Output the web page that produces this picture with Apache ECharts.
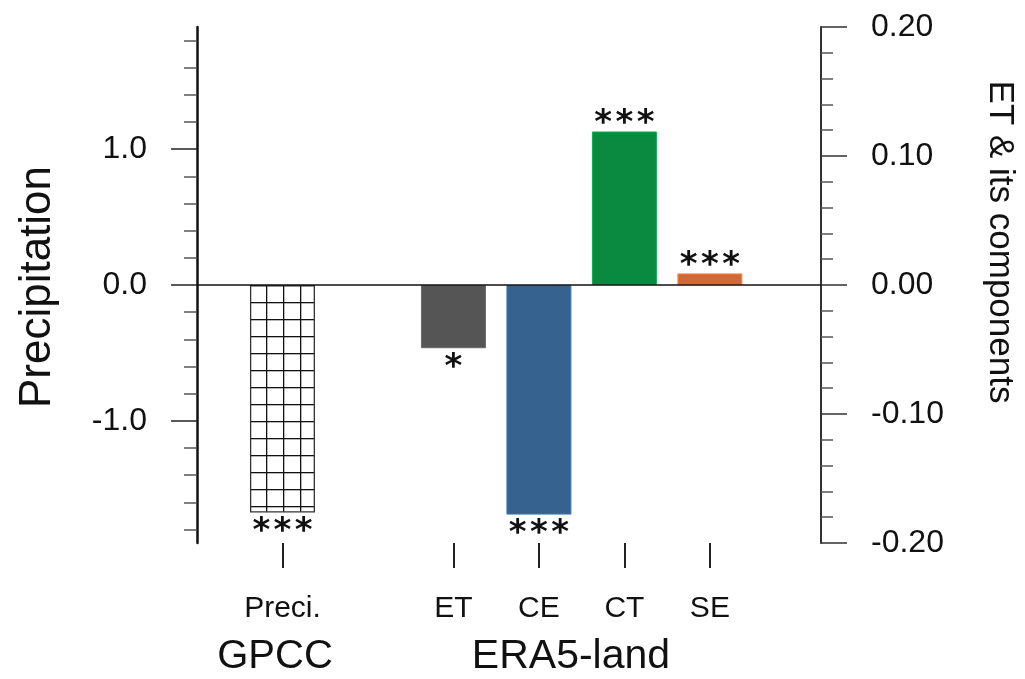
<!DOCTYPE html>
<html>
<head>
<meta charset="utf-8">
<script src="https://cdn.jsdelivr.net/npm/echarts@6/dist/echarts.min.js"></script>
<style>
html,body{margin:0;padding:0;background:#fff;}
#chart{width:1025px;height:679px;}
</style>
</head>
<body>
<div id="chart"></div>
<script>
// ---- data ----
const categories = ['', 'Preci.', '', 'ET', 'CE', 'CT', 'SE'];
const preciNames = ['Preci.'];
const preciValues = [-1.675];          // GPCC, left axis
const preciSignif = ['***'];
const era5Names = ['ET', 'CE', 'CT', 'SE'];
const era5Values = [-0.049, -0.178, 0.119, 0.009];   // ERA5-land, right axis
const era5Signif = ['*', '***', '***', '***'];
const era5Colors = ['#555555', '#35628f', '#0a8a40', '#cf6a37'];
const leftMajorTicks = [-1, 0, 1];
const leftMinorTicks = [-1.8, -1.6, -1.4, -1.2, -0.8, -0.6, -0.4, -0.2, 0.2, 0.4, 0.6, 0.8, 1.2, 1.4, 1.6, 1.8];
const groupLabels = ['GPCC', 'ERA5-land'];

const FONT = "'Liberation Sans', Helvetica, Arial, sans-serif";

// hatch pattern
const cell = 17;
const cvs = document.createElement('canvas');
cvs.width = cell; cvs.height = cell;
const ctx = cvs.getContext('2d');
ctx.fillStyle = '#fff'; ctx.fillRect(0, 0, cell, cell);
ctx.fillStyle = '#111';
ctx.fillRect(0, 0, 1.3, cell);
ctx.fillRect(0, 0, cell, 1.3);

const tickPositions = categories.map((c, i) => c ? i : null).filter(v => v !== null);

function starLabel(sig, v) {
  return {
    show: true,
    formatter: sig.split('').join('\u200A'),
    position: v >= 0 ? 'top' : 'bottom',
    distance: v >= 0 ? -10 : 3,
    fontSize: 34,
    fontWeight: 'bold',
    fontFamily: "'DejaVu Sans', sans-serif",
    color: '#111'
  };
}

const chart = echarts.init(document.getElementById('chart'), null, {renderer: 'canvas'});
chart.setOption({
  animation: false,
  backgroundColor: '#fff',
  grid: {left: 197, right: 204, top: 27, bottom: 136},
  xAxis: [{
    type: 'value', min: 0, max: 7.3,
    splitLine: {show: false},
    axisLine: {show: false, onZero: false},
    axisTick: {show: true, customValues: tickPositions, length: 25, lineStyle: {color: '#222', width: 2}},
    axisLabel: {show: true, customValues: tickPositions, formatter: v => categories[Math.round(v)],
      margin: 51, fontSize: 30, fontFamily: FONT, color: '#111'}
  }],
  yAxis: [{
    type: 'value', position: 'left', min: -1.9, max: 1.9,
    splitLine: {show: false},
    axisLine: {show: true, onZero: false, lineStyle: {color: '#111', width: 2.5}},
    axisTick: {show: true, customValues: leftMajorTicks, length: 26, lineStyle: {color: '#222', width: 1.5}},
    axisLabel: {show: true, customValues: leftMajorTicks, formatter: v => v.toFixed(1),
      margin: 50, fontSize: 32, fontFamily: FONT, color: '#111'}
  }, {
    type: 'value', position: 'right', min: -0.2, max: 0.2, interval: 0.1,
    splitLine: {show: false},
    axisLine: {show: true, onZero: false, lineStyle: {color: '#333', width: 2}},
    axisTick: {show: true, length: 26, lineStyle: {color: '#333', width: 1.5}},
    minorTick: {show: true, splitNumber: 5, length: 12, lineStyle: {color: '#555', width: 1.5}},
    minorSplitLine: {show: false},
    axisLabel: {show: true, formatter: v => v.toFixed(2), margin: 50, fontSize: 32, fontFamily: FONT, color: '#111'}
  }, {
    type: 'value', position: 'left', min: -1.9, max: 1.9,
    splitLine: {show: false},
    axisLine: {show: false},
    axisTick: {show: true, customValues: leftMinorTicks, length: 13, lineStyle: {color: '#555', width: 1.5}},
    axisLabel: {show: false}
  }],
  series: [{
    type: 'bar', name: 'GPCC', xAxisIndex: 0, yAxisIndex: 0,
    barWidth: 65, barGap: '-100%',
    data: preciNames.map((n, i) => ({
      value: [categories.indexOf(n), preciValues[i]],
      label: starLabel(preciSignif[i], preciValues[i])
    })),
    itemStyle: {
      color: {image: cvs, repeat: 'repeat', x: 11, y: 13},
      borderColor: '#333', borderWidth: 1.3
    },
    markLine: {
      silent: true, symbol: 'none', label: {show: false},
      lineStyle: {color: '#111', width: 1.5, type: 'solid'},
      data: [{yAxis: 0}]
    }
  }, {
    type: 'bar', name: 'ERA5-land', xAxisIndex: 0, yAxisIndex: 1,
    barWidth: 65, barGap: '-100%',
    data: era5Names.map((n, i) => ({
      value: [categories.indexOf(n), era5Values[i]],
      itemStyle: {color: era5Colors[i], borderColor: echarts.color.lift(era5Colors[i], -0.25), borderWidth: 1},
      label: starLabel(era5Signif[i], era5Values[i])
    }))
  }],
  graphic: [{
    type: 'text', x: 38, y: 287, rotation: Math.PI / 2,
    style: {text: 'Precipitation', fill: '#111', font: '44px ' + FONT, textAlign: 'center', textVerticalAlign: 'middle'}
  }, {
    type: 'text', x: 1000, y: 242, rotation: -Math.PI / 2,
    style: {text: 'ET & its components', fill: '#111', font: '35px ' + FONT, textAlign: 'center', textVerticalAlign: 'middle'}
  }, {
    type: 'text', x: 275, y: 657,
    style: {text: groupLabels[0], fill: '#111', font: '40px ' + FONT, textAlign: 'center', textVerticalAlign: 'middle'}
  }, {
    type: 'text', x: 571, y: 657,
    style: {text: groupLabels[1], fill: '#111', font: '41px ' + FONT, textAlign: 'center', textVerticalAlign: 'middle'}
  }]
});
</script>
</body>
</html>
